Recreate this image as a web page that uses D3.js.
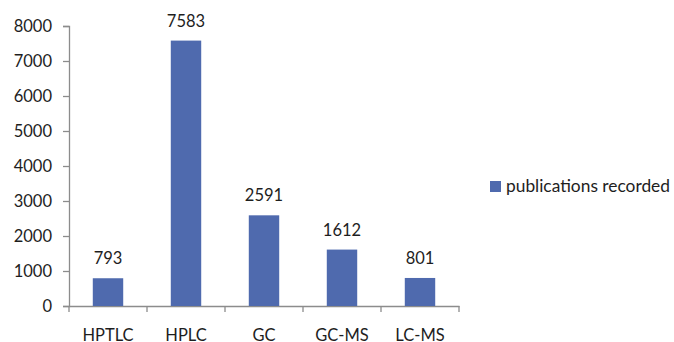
<!DOCTYPE html>
<html>
<head>
<meta charset="utf-8">
<script src="https://cdn.jsdelivr.net/npm/d3@7"></script>
<style>
  html, body { margin: 0; padding: 0; background: #fff; }
  svg { display: block; font-family: Lato, "Open Sans", sans-serif; }
</style>
</head>
<body>
<svg id="chart" width="674" height="342"></svg>
<script>
// Publication counts per analytical technique
const techniques = ["HPTLC", "HPLC", "GC", "GC-MS", "LC-MS"];
const publications = [793, 7583, 2591, 1612, 801];
const yTicks = [0, 1000, 2000, 3000, 4000, 5000, 6000, 7000, 8000];
const seriesName = "publications recorded";

const svg = d3.select("#chart");
const plotLeft = 69, plotRight = 459, plotTop = 26, plotBottom = 306;
const barColor = "#4F6AAE";
const axisColor = "#8c8c8c";
const textColor = "#1e1e1e";

const x = d3.scaleBand().domain(techniques).range([plotLeft, plotRight]).padding(0);
const y = d3.scaleLinear().domain([0, 8000]).range([plotBottom, plotTop]);
const barW = x.bandwidth() * 0.39;

// Value axis
const yAxis = svg.append("g")
  .attr("transform", `translate(${plotLeft},0)`)
  .call(d3.axisLeft(y).tickValues(yTicks).tickSize(6).tickPadding(11).tickFormat(d3.format("d")));
yAxis.select(".domain").attr("stroke", axisColor).attr("stroke-width", 1.3);
yAxis.selectAll(".tick line").attr("stroke", axisColor).attr("stroke-width", 1.3);
yAxis.selectAll("text").attr("fill", textColor).style("font-size", "16.5px")
  .style("font-family", "Lato, sans-serif").attr("dy", "0.36em");

// Category axis
const xAxis = svg.append("g")
  .attr("transform", `translate(0,${plotBottom})`)
  .call(d3.axisBottom(x).tickSizeInner(0).tickSizeOuter(0).tickPadding(23));
xAxis.select(".domain").attr("stroke", axisColor).attr("stroke-width", 1.3);
xAxis.selectAll(".tick line").remove();
xAxis.selectAll("text").attr("fill", textColor).style("font-size", "16.5px")
  .style("font-family", "Lato, sans-serif");

// Tick marks between categories
const edges = techniques.map(t => x(t)).concat([x(techniques[techniques.length - 1]) + x.bandwidth()]);
svg.append("g").selectAll("line").data(edges).join("line")
  .attr("x1", d => d).attr("x2", d => d)
  .attr("y1", plotBottom).attr("y2", plotBottom + 6)
  .attr("stroke", axisColor).attr("stroke-width", 1.3);

// Bars
svg.append("g").selectAll("rect").data(techniques).join("rect")
  .attr("x", (d) => x(d) + (x.bandwidth() - barW) / 2)
  .attr("y", (d, i) => y(publications[i]))
  .attr("width", barW)
  .attr("height", (d, i) => plotBottom - y(publications[i]))
  .attr("fill", barColor);

// Value labels
svg.append("g").selectAll("text").data(techniques).join("text")
  .attr("x", d => x(d) + x.bandwidth() / 2)
  .attr("y", (d, i) => y(publications[i]) - 14)
  .attr("text-anchor", "middle")
  .attr("fill", textColor)
  .style("font-size", "16.5px")
  .text((d, i) => publications[i]);

// Legend
const legend = svg.append("g");
legend.append("rect").attr("x", 490).attr("y", 181).attr("width", 11).attr("height", 11).attr("fill", barColor);
legend.append("text").attr("x", 506).attr("y", 192)
  .attr("fill", textColor).style("font-size", "16.5px")
  .attr("textLength", 164).attr("lengthAdjust", "spacingAndGlyphs")
  .text(seriesName);
</script>
</body>
</html>
